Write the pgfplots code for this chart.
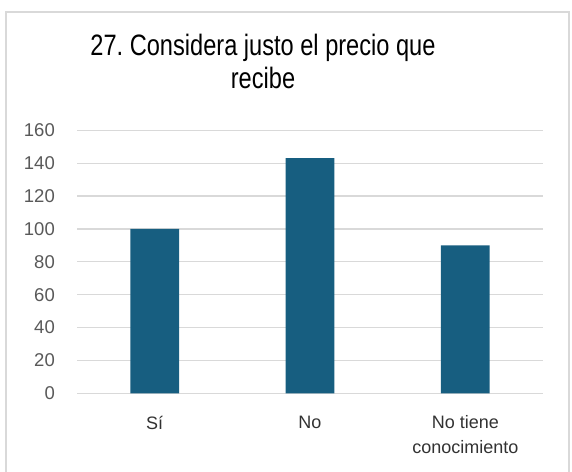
\documentclass[border=0pt]{standalone}
\usepackage{fontspec}
\setmainfont{Liberation Sans}
\newfontfamily\titlefont[FakeStretch=0.8]{Liberation Sans}
\usepackage{pgfplots}
\pgfplotsset{compat=1.18}
\definecolor{barblue}{RGB}{23,94,128}
\definecolor{gridgray}{RGB}{217,217,217}
\definecolor{ticktext}{RGB}{89,89,89}
\definecolor{cattext}{RGB}{50,50,50}
\frenchspacing
\begin{document}
\begin{tikzpicture}[x=1pt,y=1pt]
\useasboundingbox (0,0) rectangle (572,-471);
\draw[gridgray, line width=1.5pt] (6,-475) -- (6,-12) -- (569,-12) -- (569,-475);
\node[font=\titlefont\fontsize{29.5}{33}\selectfont, anchor=base, inner sep=0pt] at (263,-55) {27. Considera justo el precio que};
\node[font=\titlefont\fontsize{29.5}{33}\selectfont, anchor=base, inner sep=0pt] at (263,-88) {recibe};
\begin{axis}[
  at={(77pt,-393.3pt)}, anchor=south west,
  scale only axis, width=466pt, height=263pt,
  ybar, bar width=48.7pt,
  xmin=-0.5, xmax=2.5, ymin=0, ymax=160,
  ytick={0,20,...,160},
  xtick={0,1,2},
  xticklabels={S\'{\i},No,{No tiene\\conocimiento}},
  axis line style={draw=none},
  tick style={draw=none},
  ymajorgrids,
  major grid style={gridgray, line width=1.3pt},
  /pgf/number format/assume math mode=true,
  yticklabel style={font=\fontsize{18.5}{22}\selectfont, text=ticktext, inner sep=0pt, xshift=-22pt},
  xticklabel style={font=\fontsize{18}{25}\selectfont, text=cattext, inner sep=0pt, align=center, anchor=north, yshift=-18pt},
]
\addplot[fill=barblue, draw=none] coordinates {(0,100) (1,143) (2,90)};
\end{axis}
\end{tikzpicture}
\end{document}
